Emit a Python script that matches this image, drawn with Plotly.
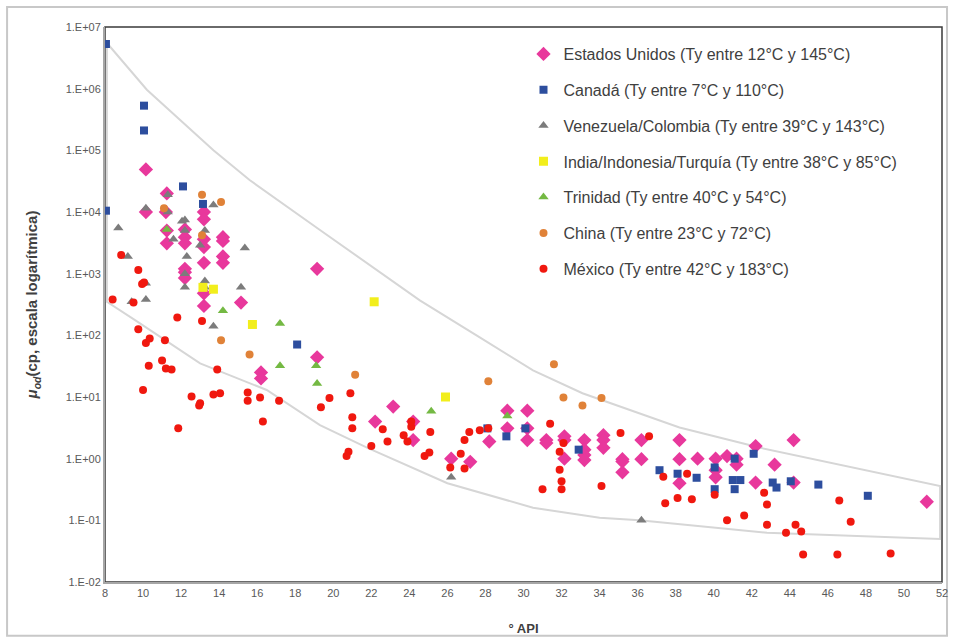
import plotly.graph_objects as go

# Envelope (approximate boundary curve)
env_api = [8.1, 10.2, 13.7, 15.6, 19.3, 24.55, 27.7, 30.5, 33.1, 36.65, 38.2, 42.45, 51.9,
           51.9, 42.8, 36.1, 34.0, 30.5, 26.0, 21.8, 19.3, 16.5, 13.0, 9.6, 8.1, 8.1]
env_mu = [5.5e6, 9.6e5, 1.0e5, 3.3e4, 5.1e3, 370, 93, 27, 11.5, 4.7, 3.2, 1.5, 0.36,
          0.05, 0.063, 0.1, 0.11, 0.16, 0.4, 1.5, 3.5, 13, 35, 175, 350, 5.5e6]

usa_api = [10.15, 10.15, 11.25, 11.2, 11.25, 11.25,
           12.2, 12.2, 12.2, 12.2, 12.2, 12.2,
           13.2, 13.2, 13.2, 13.2, 13.2, 13.2, 13.2,
           14.2, 14.2, 14.2, 14.2, 15.15, 16.2, 16.2, 19.15, 19.15,
           22.2, 23.15, 24.2, 24.2, 26.2, 27.2, 28.2, 29.15, 29.15,
           30.2, 30.2, 30.2, 31.2, 31.2, 32.15, 32.15, 32.15,
           33.2, 33.2, 33.2, 33.2, 34.2, 34.2, 34.2, 35.2, 35.2, 35.2,
           36.2, 36.2, 38.2, 38.2, 38.2, 39.15, 40.1, 40.1, 40.1, 40.7,
           41.2, 41.2, 42.2, 42.2, 43.2, 44.2, 44.2, 51.2]
usa_mu = [4.9e4, 1.0e4, 2.0e4, 1.0e4, 5.0e3, 3.1e3,
          5.2e3, 3.9e3, 3.1e3, 1.2e3, 1.05e3, 850,
          1.0e4, 7.6e3, 3.6e3, 2.7e3, 1.5e3, 480, 300,
          3.9e3, 3.4e3, 1.9e3, 1.5e3, 340, 25, 20, 1.2e3, 44,
          4.0, 7.0, 4.0, 2.0, 1.0, 0.89, 1.9, 6.0, 3.1,
          6.0, 3.1, 2.0, 2.0, 1.8, 2.3, 2.0, 1.0,
          2.0, 1.4, 1.15, 0.95, 2.4, 2.0, 1.5, 0.98, 0.9, 0.6,
          2.0, 0.98, 2.0, 0.98, 0.4, 1.0, 1.0, 0.65, 0.5, 1.1,
          1.0, 0.8, 1.6, 0.41, 0.8, 2.0, 0.41, 0.2]

can_api = [8.05, 8.05, 10.05, 10.05, 12.1, 13.15, 18.1, 28.1, 29.1, 30.1, 32.9, 37.15, 38.1,
           39.1, 40.05, 40.05, 41.1, 41.0, 41.4, 41.1, 42.1, 43.1, 43.3, 44.05, 45.5, 48.1]
can_mu = [5.3e6, 1.05e4, 5.3e5, 2.1e5, 2.6e4, 1.35e4, 71, 3.1, 2.3, 3.1, 1.4, 0.65, 0.57,
          0.49, 0.72, 0.32, 1.0, 0.45, 0.45, 0.32, 1.2, 0.41, 0.34, 0.43, 0.38, 0.25]

ven_api = [8.7, 9.2, 9.4, 10.15, 10.15, 10.15, 11.3, 11.3, 11.6, 12.05, 12.2, 12.2, 12.3, 12.2,
           12.2, 13.0, 13.25, 13.25, 13.25, 13.7, 13.7, 15.35, 15.15, 26.2, 36.2]
ven_mu = [5.5e3, 1.9e3, 350, 1.15e4, 700, 380, 1.9e4, 1.0e4, 3.6e3, 7.1e3, 7.4e3, 5.0e3, 1.9e3,
          1.0e3, 600, 2.9e3, 5.0e3, 760, 600, 1.3e4, 140, 2.6e3, 600, 0.5, 0.1]

ind_api = [13.15, 13.7, 15.75, 22.15, 25.9]
ind_mu = [600, 560, 150, 350, 10]

tri_api = [11.25, 14.2, 17.2, 17.2, 19.1, 19.15, 25.15, 29.15]
tri_mu = [5.2e3, 250, 155, 32, 32, 16.5, 5.9, 4.9]

chn_api = [11.1, 13.1, 14.1, 13.1, 14.1, 15.6, 21.15, 28.15, 31.6, 32.1, 33.1, 34.1]
chn_mu = [1.15e4, 1.9e4, 1.45e4, 4.2e3, 83, 49, 23, 18, 34, 9.8, 7.3, 9.6]

mex_api = [8.4, 8.85, 9.5, 9.75, 9.95, 10.05, 9.75, 10.15, 10.35, 10.3, 10.0, 11.0, 11.2, 11.5,
           11.15, 11.8, 13.1, 12.55, 13.0, 12.95, 11.85, 13.7, 14.05, 13.9, 15.5, 15.5, 16.15,
           16.3, 17.15, 19.35, 19.8, 20.9, 21.0, 21.0, 20.8, 20.7, 22.0, 22.6, 22.85, 23.7, 23.9,
           24.1, 24.1, 24.8, 25.05, 25.1, 26.15, 26.7, 26.9, 26.9, 27.15, 27.7, 28.15, 31.4,
           31.0, 31.9, 31.9, 32.0, 32.0, 32.1, 34.1, 35.1, 36.6, 37.35, 37.45, 38.1, 38.6, 38.85,
           40.05, 40.7, 41.6, 42.65, 42.8, 42.8, 43.8, 44.3, 44.6, 44.7, 46.5, 46.6, 47.2, 49.3]
mex_mu = [380, 2.0e3, 340, 1.15e3, 680, 720, 125, 75, 89, 32, 13, 39, 29, 28,
          83, 195, 170, 10.2, 7.9, 7.3, 3.1, 11, 11.5, 28, 11.8, 8.7, 9.8,
          4.0, 8.7, 6.8, 9.6, 11.5, 4.7, 3.1, 1.3, 1.1, 1.6, 3.0, 1.9, 2.4, 1.9,
          3.3, 4.0, 1.1, 1.26, 2.7, 0.72, 1.2, 0.69, 2.0, 2.7, 2.9, 3.1, 3.7,
          0.32, 1.3, 0.66, 0.43, 0.32, 1.8, 0.36, 2.6, 2.3, 0.51, 0.19, 0.23, 0.57, 0.22,
          0.26, 0.1, 0.12, 0.28, 0.18, 0.085, 0.063, 0.085, 0.066, 0.028, 0.028, 0.21, 0.095, 0.029]

x_ticks = list(range(8, 53, 2))
y_tickvals = [1e-2, 1e-1, 1e0, 1e1, 1e2, 1e3, 1e4, 1e5, 1e6, 1e7]
y_ticktext = ["1.E-02", "1.E-01", "1.E+00", "1.E+01", "1.E+02", "1.E+03",
              "1.E+04", "1.E+05", "1.E+06", "1.E+07"]

series = [
    ("Estados Unidos (Ty entre 12°C y 145°C)", usa_api, usa_mu, "diamond", "#e8389c", 11),
    ("Canadá (Ty entre 7°C y 110°C)", can_api, can_mu, "square", "#2d4e9e", 8),
    ("Venezuela/Colombia (Ty entre 39°C y 143°C)", ven_api, ven_mu, "triangle-up", "#7c7c7c", 9),
    ("India/Indonesia/Turquía (Ty entre 38°C y 85°C)", ind_api, ind_mu, "square", "#f2ee1c", 9),
    ("Trinidad (Ty entre 40°C y 54°C)", tri_api, tri_mu, "triangle-up", "#74b943", 9),
    ("China (Ty entre 23°C y 72°C)", chn_api, chn_mu, "circle", "#e08238", 8),
    ("México (Ty entre 42°C y 183°C)", mex_api, mex_mu, "circle", "#f0180f", 8),
]

FONT = "Liberation Sans, Arial, sans-serif"

fig = go.Figure()
fig.add_trace(go.Scatter(x=env_api, y=env_mu, mode="lines",
                         line=dict(color="#d6d6d6", width=2),
                         showlegend=False, hoverinfo="skip"))
for i, (name, xs, ys, sym, col, sz) in enumerate(series):
    fig.add_trace(go.Scatter(x=xs, y=ys, mode="markers", name=name,
                             legendgroup=f"g{i}",
                             marker=dict(symbol=sym, color=col, size=sz,
                                         line=dict(width=0))))

fig.update_layout(
    width=954, height=643,
    margin=dict(l=105, r=12, t=27, b=61),
    paper_bgcolor="white", plot_bgcolor="white",
    font=dict(family=FONT, color="#404040", size=11),
    legend=dict(x=0.5, y=0.982, xanchor="left", yanchor="top",
                font=dict(family=FONT, size=16, color="#404040"),
                tracegroupgap=12, bgcolor="rgba(0,0,0,0)"),
    xaxis=dict(range=[8, 52], tickvals=x_ticks, showgrid=False, zeroline=False,
               automargin=False,
               showline=True, linecolor="#a6a6a6", linewidth=2, ticks="",
               tickfont=dict(size=11, color="#595959"),
               title=dict(text="<b>° API</b>", font=dict(size=13, color="#404040"),
                          standoff=26)),
    yaxis=dict(type="log", range=[-2, 7], tickvals=y_tickvals, ticktext=y_ticktext,
               automargin=False,
               showgrid=False, zeroline=False, showline=True, linecolor="#a6a6a6",
               linewidth=2, ticks="", tickfont=dict(size=11, color="#595959"),
               title=dict(text="<b><i>μ</i><sub><i>od</i></sub>(cp, escala logarítmica)</b>",
                          font=dict(size=15, color="#404040"), standoff=24)),
    shapes=[
        dict(type="rect", xref="paper", yref="paper", x0=0, x1=1, y0=0, y1=1,
             line=dict(color="#3a3a3a", width=1.5), layer="below"),
        dict(type="rect", xref="paper", yref="paper", x0=-0.117, x1=1.006,
             y0=-0.097, y1=1.036, line=dict(color="#c8c8c8", width=2), layer="below"),
    ],
)

fig.write_html("out.html")
